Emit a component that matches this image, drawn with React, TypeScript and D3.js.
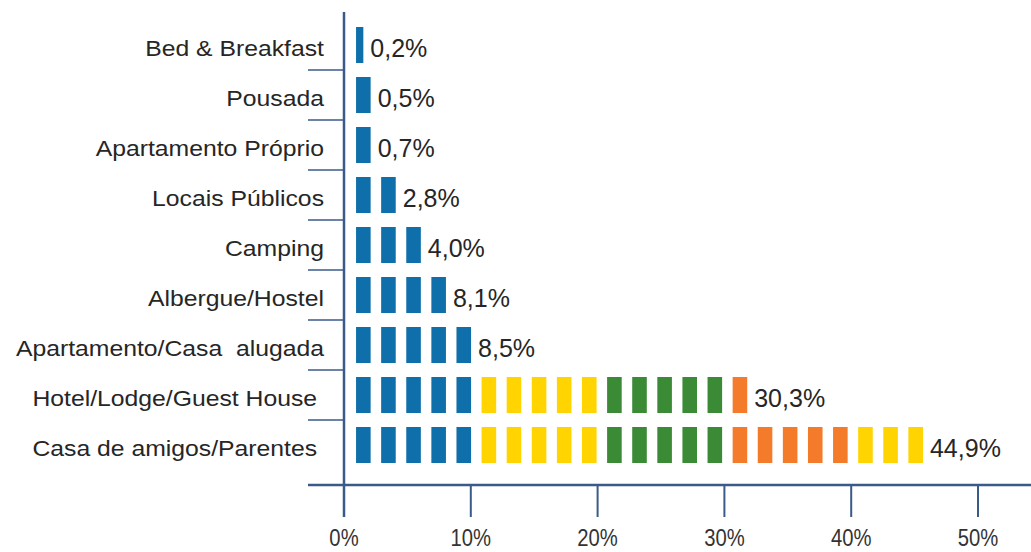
import React, { useEffect, useRef } from "react";
import * as d3 from "d3";

// categories top to bottom
const categories = [
  "Bed & Breakfast",
  "Pousada",
  "Apartamento Próprio",
  "Locais Públicos",
  "Camping",
  "Albergue/Hostel",
  "Apartamento/Casa  alugada",
  "Hotel/Lodge/Guest House ",
  "Casa de amigos/Parentes ",
];
const values = [0.2, 0.5, 0.7, 2.8, 4.0, 8.1, 8.5, 30.3, 44.9];
// number of icons drawn on each row (each icon = 2%)
const iconCounts = [0.5, 1, 1, 2, 3, 4, 5, 16, 23];
const iconColors = ["#0f6faa", "#ffd400", "#3a8a36", "#f47b2a", "#ffd400"];
const xTicks = [0, 10, 20, 30, 40, 50];

const fmt = (v: number) => v.toFixed(1).replace(".", ",") + "%";

export default function App() {
  const svgRef = useRef<SVGSVGElement>(null);

  useEffect(() => {
    const w = 1031;
    const h = 552;
    const svg = d3.select(svgRef.current).attr("width", w).attr("height", h);
    svg.selectAll("*").remove();

    const axisColor = "#3a5a88";
    const x = d3.scaleLinear().domain([0, 50]).range([344, 978]);
    const y = d3.scalePoint<string>().domain(categories).range([45, 445]);
    const step = 1.98; // percent per icon slot
    const offset = 0.95;
    const iconW = 1.15;
    const iconH = 36;

    // axes
    svg
      .append("line")
      .attr("x1", x(0))
      .attr("x2", x(0))
      .attr("y1", 12)
      .attr("y2", 517)
      .attr("stroke", axisColor)
      .attr("stroke-width", 2.5);
    svg
      .append("line")
      .attr("x1", 308)
      .attr("x2", w)
      .attr("y1", 485)
      .attr("y2", 485)
      .attr("stroke", axisColor)
      .attr("stroke-width", 2.5);

    // category separators
    const seps = d3.pairs(categories).map(([a, b]) => ((y(a) as number) + (y(b) as number)) / 2);
    svg
      .selectAll(".sep")
      .data(seps)
      .join("line")
      .attr("x1", 308)
      .attr("x2", x(0))
      .attr("y1", (d) => d)
      .attr("y2", (d) => d)
      .attr("stroke", axisColor)
      .attr("stroke-width", 1.5);

    // x ticks
    svg
      .selectAll(".xtick")
      .data(xTicks)
      .join("line")
      .attr("x1", (d) => x(d))
      .attr("x2", (d) => x(d))
      .attr("y1", 485)
      .attr("y2", 517)
      .attr("stroke", axisColor)
      .attr("stroke-width", 2);

    svg
      .selectAll(".xlabel")
      .data(xTicks)
      .join("text")
      .attr("transform", (d) => `translate(${x(d)},546) scale(0.88,1)`)
      .attr("text-anchor", "middle")
      .attr("font-family", "Liberation Sans, Arial, sans-serif")
      .attr("font-size", 23)
      .attr("fill", "#333")
      .text((d) => d + "%");

    // category labels
    svg
      .selectAll(".cat")
      .data(categories)
      .join("text")
      .attr("transform", (d) => `translate(324,${(y(d) as number) + 11}) scale(1.1,1)`)
      .attr("text-anchor", "end")
      .attr("font-family", "Liberation Sans, Arial, sans-serif")
      .attr("font-size", 22.5)
      .attr("fill", "#262626")
      .style("white-space", "pre")
      .text((d) => d);

    // icons
    categories.forEach((cat, r) => {
      const n = iconCounts[r];
      const icons = d3.range(Math.ceil(n)).map((i) => ({
        i,
        frac: Math.min(1, n - i),
      }));
      svg
        .append("g")
        .selectAll("rect")
        .data(icons)
        .join("rect")
        .attr("x", (d) => x(offset + d.i * step))
        .attr("y", (y(cat) as number) - iconH / 2)
        .attr("width", (d) => x(iconW * d.frac) - x(0))
        .attr("height", iconH)
        .attr("fill", (d) => iconColors[Math.floor(d.i / 5)]);

      const last = icons[icons.length - 1];
      svg
        .append("text")
        .attr("x", x(offset + last.i * step) + x(iconW * last.frac) - x(0) + 7)
        .attr("y", (y(cat) as number) + 12)
        .attr("font-family", "Liberation Sans, Arial, sans-serif")
        .attr("font-size", 25)
        .attr("fill", "#262626")
        .text(fmt(values[r]));
    });
  }, []);

  return (
    <div style={{ position: "absolute", left: 0, top: 0 }}>
      <svg ref={svgRef} style={{ display: "block", background: "#fff" }}></svg>
    </div>
  );
}
